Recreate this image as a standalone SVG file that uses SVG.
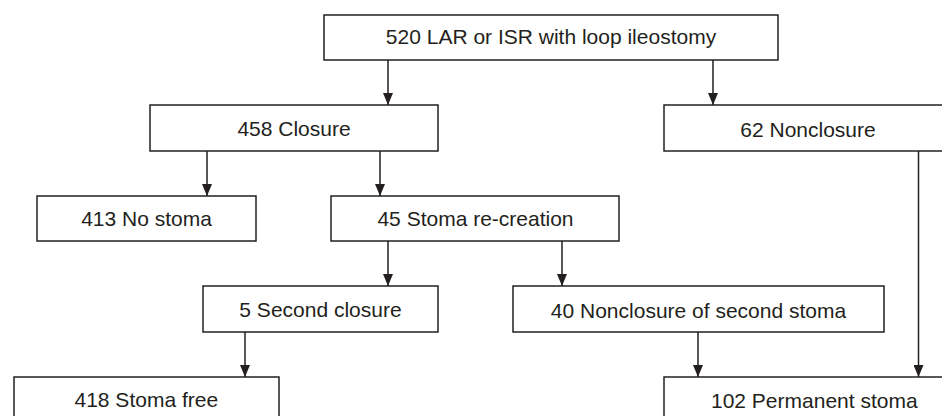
<svg xmlns="http://www.w3.org/2000/svg" width="942" height="416" viewBox="0 0 942 416">
<defs>
<marker id="arr" viewBox="0 0 12 10" refX="12" refY="5" markerWidth="12" markerHeight="10" markerUnits="userSpaceOnUse" orient="auto">
<path d="M0,0 L12,5 L0,10 z" fill="#231f20"/>
</marker>
<style>
.box{fill:#ffffff;stroke:#231f20;stroke-width:1.5}
.lbl{font-family:"Liberation Sans",Arial,sans-serif;font-size:21px;fill:#231f20;text-anchor:middle}
.con{stroke:#231f20;stroke-width:1.5;fill:none}
.arr{marker-end:url(#arr)}
</style>
</defs>
<rect width="942" height="416" fill="#ffffff"/>
<g id="connectors">
<line class="con arr" x1="388" y1="60" x2="388" y2="105"/>
<line class="con arr" x1="713" y1="60" x2="713" y2="105"/>
<line class="con arr" x1="207" y1="151" x2="207" y2="196"/>
<line class="con arr" x1="380" y1="151" x2="380" y2="196"/>
<line class="con arr" x1="388" y1="241" x2="388" y2="286"/>
<line class="con arr" x1="562" y1="241" x2="562" y2="286"/>
<line class="con arr" x1="245" y1="332" x2="245" y2="377"/>
<line class="con arr" x1="698" y1="332" x2="698" y2="377"/>
<line class="con arr" x1="918.5" y1="151" x2="918.5" y2="377"/>
</g>
<g id="n520">
<rect class="box" x="324" y="15" width="454" height="45"/>
<text class="lbl" x="551" y="43.5">520 LAR or ISR with loop ileostomy</text>
</g>
<g id="n458">
<rect class="box" x="150" y="105" width="288" height="46"/>
<text class="lbl" x="294" y="136">458 Closure</text>
</g>
<g id="n62">
<rect class="box" x="664" y="105" width="290" height="46"/>
<text class="lbl" x="808" y="136.5">62 Nonclosure</text>
</g>
<g id="n413">
<rect class="box" x="37" y="196" width="219" height="45"/>
<text class="lbl" x="146.5" y="226.3">413 No stoma</text>
</g>
<g id="n45">
<rect class="box" x="331" y="196" width="288" height="45"/>
<text class="lbl" x="475.5" y="226.3">45 Stoma re-creation</text>
</g>
<g id="n5">
<rect class="box" x="203" y="286" width="235" height="46"/>
<text class="lbl" x="320.5" y="317.3">5 Second closure</text>
</g>
<g id="n40">
<rect class="box" x="513" y="286" width="371" height="46"/>
<text class="lbl" x="698.5" y="317.8">40 Nonclosure of second stoma</text>
</g>
<g id="n418">
<rect class="box" x="14" y="377" width="265" height="50"/>
<text class="lbl" x="146.3" y="407.3">418 Stoma free</text>
</g>
<g id="n102">
<rect class="box" x="664" y="377" width="300" height="50"/>
<text class="lbl" x="814.3" y="407.5">102 Permanent stoma</text>
</g>
</svg>
